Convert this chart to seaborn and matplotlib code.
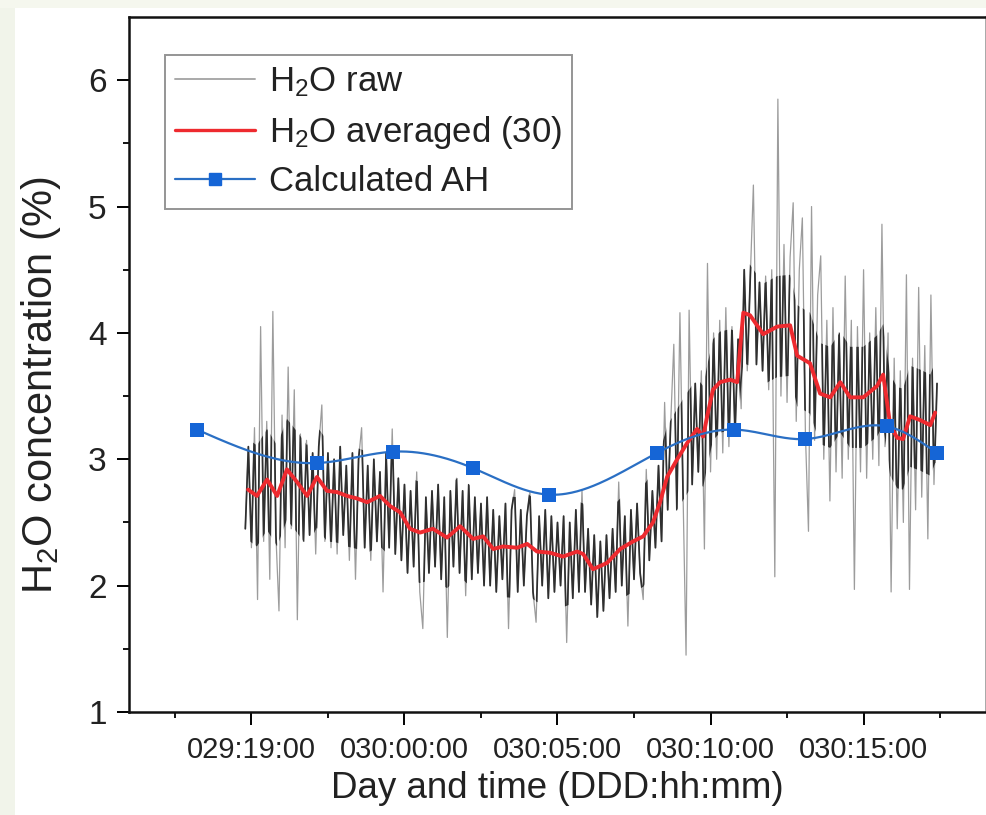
import numpy as np
import pandas as pd
import matplotlib
matplotlib.use("Agg")
import matplotlib.pyplot as plt
from matplotlib.lines import Line2D
from matplotlib.patches import Rectangle, Polygon
import seaborn as sns

# ---------------- data (hours since day 029 00:00) ----------------
raw_start = 18.8
raw_step = 0.1
raw_h2o = [
    2.45, 3.10, 2.30, 3.25, 1.89, 4.05, 2.35, 3.30, 2.05, 4.17,
    2.40, 1.80, 3.35, 2.30, 3.73, 2.45, 3.55, 1.73, 3.20, 2.35,
    3.15, 2.40, 3.05, 2.25, 3.10, 3.43, 2.35, 3.05, 2.30, 3.00,
    2.25, 3.10, 2.40, 2.95, 2.20, 3.05, 2.05, 3.00, 3.25, 2.30,
    2.95, 2.20, 3.00, 2.35, 2.90, 1.95, 3.05, 2.30, 3.24, 2.25,
    2.85, 2.20, 2.80, 2.10, 2.75, 2.15, 2.90, 1.95, 1.66, 2.70,
    2.10, 2.75, 2.15, 2.80, 2.05, 2.70, 1.59, 2.75, 2.15, 2.85,
    2.10, 2.75, 1.92, 2.80, 2.05, 2.70, 2.10, 2.65, 2.00, 2.70,
    2.00, 2.60, 1.95, 2.55, 2.05, 2.65, 1.66, 2.60, 2.76, 1.95,
    2.60, 2.00, 2.55, 2.74, 1.95, 1.71, 2.55, 2.00, 2.60, 1.90,
    2.55, 1.95, 2.50, 2.00, 2.55, 1.55, 2.50, 1.90, 2.60, 1.95,
    2.76, 1.95, 2.45, 1.85, 2.40, 1.75, 2.35, 1.80, 2.40, 1.90,
    2.45, 1.95, 2.82, 2.00, 2.55, 1.68, 2.60, 2.05, 2.65, 2.10,
    1.89, 2.92, 2.20, 2.75, 2.30, 2.95, 2.35, 3.45, 2.60, 3.30,
    3.91, 2.60, 4.16, 2.75, 1.45, 4.18, 2.80, 3.60, 2.90, 3.70,
    2.29, 4.55, 2.90, 4.00, 3.00, 4.10, 3.05, 4.20, 3.10, 4.05,
    3.20, 3.95, 3.40, 4.50, 3.70, 4.45, 5.17, 3.75, 4.40, 3.70,
    4.45, 3.55, 4.50, 2.07, 5.85, 3.50, 4.70, 3.45, 4.60, 5.03,
    3.30, 4.50, 4.91, 3.20, 2.43, 5.00, 3.15, 4.30, 4.61, 3.00,
    4.10, 2.67, 4.20, 2.90, 4.00, 2.85, 4.45, 3.00, 4.10, 1.97,
    4.05, 2.90, 4.50, 2.85, 4.00, 3.00, 4.20, 2.95, 4.86, 3.10,
    4.00, 1.95, 3.80, 2.45, 3.70, 2.50, 4.46, 1.97, 3.80, 2.60,
    4.36, 2.70, 3.90, 2.37, 4.30, 2.80, 3.60,
]
raw_time = [round(raw_start + raw_step * i, 2) for i in range(len(raw_h2o))]

avg_time = [18.89, 19.18, 19.51, 19.84, 20.16, 20.49, 20.82, 21.14, 21.47, 21.80,
            22.12, 22.45, 22.78, 23.20, 23.53, 23.86, 24.18, 24.51, 24.93, 25.39,
            25.82, 26.24, 26.57, 26.90, 27.22, 27.68, 28.01, 28.33, 28.76, 29.18,
            29.64, 29.84, 30.16, 30.62, 31.05, 31.47, 31.80, 32.12, 32.35, 32.58,
            32.91, 33.24, 33.56, 33.76, 33.89, 34.08, 34.31, 34.64, 34.87, 35.07,
            35.29, 35.72, 36.18, 36.60, 36.83, 37.25, 37.58, 37.91, 38.24, 38.56,
            38.99, 39.44, 39.64, 39.87, 40.10, 40.29, 40.52, 40.85, 41.18, 41.34]
avg_h2o = [2.76, 2.71, 2.84, 2.71, 2.92, 2.82, 2.71, 2.86, 2.75, 2.74,
           2.71, 2.69, 2.66, 2.71, 2.63, 2.58, 2.45, 2.42, 2.45, 2.38,
           2.47, 2.37, 2.39, 2.29, 2.31, 2.30, 2.33, 2.27, 2.26, 2.23,
           2.27, 2.25, 2.13, 2.18, 2.29, 2.35, 2.39, 2.50, 2.66, 2.86,
           3.00, 3.13, 3.24, 3.18, 3.34, 3.55, 3.61, 3.63, 3.61, 4.16,
           4.14, 3.99, 4.05, 4.06, 3.82, 3.76, 3.52, 3.49, 3.61, 3.49,
           3.49, 3.58, 3.67, 3.27, 3.17, 3.16, 3.34, 3.31, 3.27, 3.37]

ah_time = [17.22, 21.14, 23.63, 26.24, 28.73, 32.25, 34.77, 37.09, 39.77, 41.40]
ah_h2o = [3.235, 2.97, 3.06, 2.93, 2.72, 3.05, 3.235, 3.16, 3.26, 3.05]

tick_hours = [19, 24, 29, 34, 39]
tick_labels = ["029:19:00", "030:00:00", "030:05:00", "030:10:00", "030:15:00"]

labels = [r"H$_\mathregular{2}$O raw", r"H$_\mathregular{2}$O averaged (30)", "Calculated AH"]


def natural_spline(x, y, n=400):
    """Smooth connector drawn through the AH points (spline line style)."""
    x = np.asarray(x, float); y = np.asarray(y, float)
    k = len(x); h = np.diff(x)
    A = np.zeros((k, k)); b = np.zeros(k)
    A[0, 0] = A[-1, -1] = 1.0
    for i in range(1, k - 1):
        A[i, i - 1] = h[i - 1]; A[i, i] = 2 * (h[i - 1] + h[i]); A[i, i + 1] = h[i]
        b[i] = 6 * ((y[i + 1] - y[i]) / h[i] - (y[i] - y[i - 1]) / h[i - 1])
    M = np.linalg.solve(A, b)
    xs = np.linspace(x[0], x[-1], n)
    idx = np.clip(np.searchsorted(x, xs) - 1, 0, k - 2)
    x0, x1 = x[idx], x[idx + 1]; hh = x1 - x0
    ys = (M[idx] * (x1 - xs) ** 3 / (6 * hh) + M[idx + 1] * (xs - x0) ** 3 / (6 * hh)
          + (y[idx] / hh - M[idx] * hh / 6) * (x1 - xs)
          + (y[idx + 1] / hh - M[idx + 1] * hh / 6) * (xs - x0))
    return xs, ys


# ---------------- style ----------------
sns.set_theme(style="ticks")
plt.rcParams["font.family"] = ["Liberation Sans", "DejaVu Sans"]
plt.rcParams["mathtext.fontset"] = "custom"
plt.rcParams["mathtext.rm"] = "Liberation Sans"
plt.rcParams["mathtext.it"] = "Liberation Sans:italic"

W, H = 987, 815
fig = plt.figure(figsize=(W / 100, H / 100), dpi=100, facecolor="white")
fig.patches.append(Rectangle((0, 0), 15 / W, 1, transform=fig.transFigure,
                             facecolor="#f1f4ea", edgecolor="none", zorder=-5))
fig.patches.append(Rectangle((0, 1 - 8 / H), 1, 8 / H, transform=fig.transFigure,
                             facecolor="#f5f7ee", edgecolor="none", zorder=-5))

ax = fig.add_axes([129 / W, (H - 712) / H, (986 - 129) / W, (712 - 17) / H])
ax.set_facecolor("white")

raw_df = pd.DataFrame({"t": raw_time, "v": raw_h2o})
avg_df = pd.DataFrame({"t": avg_time, "v": avg_h2o})
ah_df = pd.DataFrame({"t": ah_time, "v": ah_h2o})
sx, sy = natural_spline(ah_time, ah_h2o)
spl_df = pd.DataFrame({"t": sx, "v": sy})

# raw series: light grey spikes, dense dark core near the running average
sns.lineplot(data=raw_df, x="t", y="v", ax=ax, color="#9c9c9c", linewidth=0.9,
             estimator=None, sort=False, zorder=2)
sns.lineplot(data=raw_df, x="t", y="v", ax=ax, color="#2f2f2f", linewidth=1.25,
             estimator=None, sort=False, zorder=2.5)
core = ax.lines[-1]
band_w = 0.40
bt = [raw_time[0] - 0.1] + avg_time + [raw_time[-1] + 0.1]
bv = [avg_h2o[0]] + avg_h2o + [avg_h2o[-1]]
verts = [(t, v + band_w) for t, v in zip(bt, bv)] + [(t, v - band_w) for t, v in zip(bt[::-1], bv[::-1])]
clip_poly = Polygon(verts, closed=True, transform=ax.transData, facecolor="none", edgecolor="none")
core.set_clip_path(clip_poly)

sns.lineplot(data=avg_df, x="t", y="v", ax=ax, color="#ee2a2f", linewidth=2.8,
             estimator=None, sort=False, zorder=3)
sns.lineplot(data=spl_df, x="t", y="v", ax=ax, color="#2a6fc4", linewidth=1.6,
             estimator=None, sort=False, zorder=4)
sns.scatterplot(data=ah_df, x="t", y="v", ax=ax, marker="s", s=110, color="#1565d6",
                edgecolor="#1565d6", linewidth=0, zorder=5)

ax.set_xlim(15, 43)
ax.set_ylim(1, 6.5)
ax.set_xticks(tick_hours)
ax.set_xticklabels(tick_labels)
ax.set_xticks([h + 2.5 for h in [14] + tick_hours], minor=True)
ax.set_yticks([1, 2, 3, 4, 5, 6])
ax.set_yticks([1.5, 2.5, 3.5, 4.5, 5.5], minor=True)

ax.tick_params(axis="both", which="major", direction="out", length=9, width=1.4, color="black")
ax.tick_params(axis="both", which="minor", direction="out", length=4.5, width=1.3, color="black")
ax.tick_params(axis="x", which="major", labelsize=21, pad=8, labelcolor="#222222")
ax.tick_params(axis="y", which="major", labelsize=24, pad=7, labelcolor="#222222")

for side in ["left", "bottom", "top"]:
    ax.spines[side].set_color("#111111")
    ax.spines[side].set_linewidth(1.8)
ax.spines["right"].set_color("#9a9a9a")
ax.spines["right"].set_linewidth(1.2)

ax.set_xlabel("Day and time (DDD:hh:mm)", fontsize=26.5, labelpad=5, color="#222222")
ax.set_ylabel(r"H$_\mathregular{2}$O concentration (%)", fontsize=30, color="#222222")
ax.yaxis.set_label_coords(-0.077, 0.47)

handles = [
    Line2D([], [], color="#a9a9a9", linewidth=1.4),
    Line2D([], [], color="#ee2a2f", linewidth=2.4),
    Line2D([], [], color="#2a6fc4", linewidth=1.6, marker="s", markersize=9,
           markerfacecolor="#1565d6", markeredgecolor="#1565d6"),
]
leg = ax.legend(handles, labels, loc="upper left", bbox_to_anchor=(36 / 857, (712 - 55) / 695),
                borderaxespad=0, fontsize=25, frameon=True, fancybox=False, shadow=False,
                handlelength=2.3, handletextpad=0.4, labelspacing=0.42, borderpad=0.3)
leg.get_frame().set_edgecolor("#7a7a7a")
leg.get_frame().set_linewidth(1.4)
for t in leg.get_texts():
    t.set_color("#222222")

fig.savefig("out.png", dpi=100, facecolor=fig.get_facecolor())
